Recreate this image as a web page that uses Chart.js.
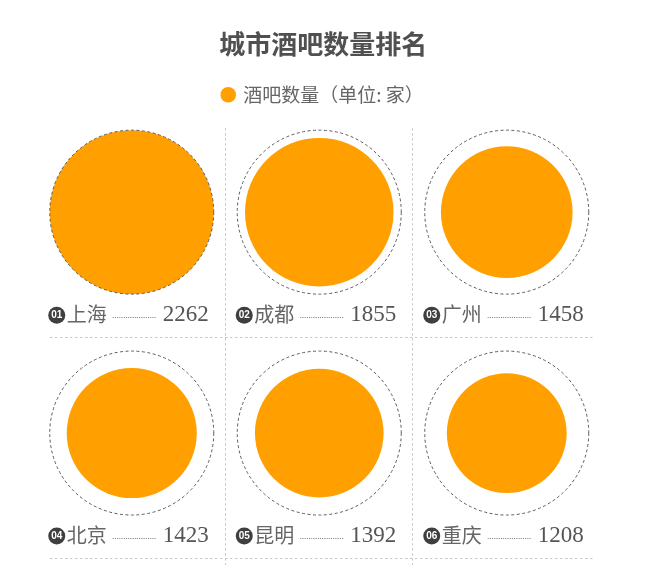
<!DOCTYPE html>
<html><head><meta charset="utf-8">
<script src="https://cdn.jsdelivr.net/npm/chart.js@4"></script>
<style>html,body{margin:0;padding:0;background:#fff}#wrap{width:648px;height:565px;position:relative}</style>
</head><body><div id="wrap"><canvas id="c"></canvas></div>
<script>
// ---- data ----
const cities = ['上海', '成都', '广州', '北京', '昆明', '重庆'];
const ranks = ['01', '02', '03', '04', '05', '06'];
const barCounts = [2262, 1855, 1458, 1423, 1392, 1208];
const seriesLabel = '酒吧数量（单位: 家）';
const chartTitle = '城市酒吧数量排名';

// ---- layout/styling ----
const COLS = 3;
const MAX_R = 82;
const ORANGE = '#FFA000';
const CJK = '"Noto Sans CJK SC", "Noto Sans", sans-serif';
const X_SHIFT = 4 / 187.5;

const maxV = Math.max(...barCounts);
const colOf = i => (i % COLS) + 0.5;
const rowOf = i => 1 - Math.floor(i / COLS);

const fillPts = barCounts.map((v, i) => ({ x: colOf(i), y: rowOf(i), r: MAX_R * Math.sqrt(v / maxV) }));
const outlinePts = barCounts.map((v, i) => ({ x: colOf(i), y: rowOf(i), r: MAX_R }));

const dashPlugin = {
  id: 'dashOutline',
  beforeDatasetDraw(chart, args) {
    if (args.index === 0) { chart.ctx.save(); chart.ctx.setLineDash([3, 2.5]); }
  },
  afterDatasetDraw(chart, args) {
    if (args.index === 0) chart.ctx.restore();
  }
};

const gridPlugin = {
  id: 'cellGrid',
  beforeDatasetsDraw(chart) {
    const { ctx, scales: { x, y } } = chart;
    ctx.save();
    ctx.strokeStyle = '#c8c8c8';
    ctx.lineWidth = 1;
    ctx.setLineDash([2.5, 2.5]);
    const top = y.getPixelForValue(1) - 84;
    const bottom = chart.height;
    for (let c = 1; c < COLS; c++) {
      const px = Math.round(x.getPixelForValue(c)) - 0.5;
      ctx.beginPath(); ctx.moveTo(px, top); ctx.lineTo(px, bottom); ctx.stroke();
    }
    [1, 0].forEach(r => {
      const py = Math.round(y.getPixelForValue(r) + 125) + 0.5;
      ctx.beginPath();
      ctx.moveTo(x.getPixelForValue(0) + 12, py);
      ctx.lineTo(x.getPixelForValue(COLS) - 7, py);
      ctx.stroke();
    });
    ctx.restore();
  }
};

const labelPlugin = {
  id: 'cellLabels',
  afterDatasetsDraw(chart) {
    const { ctx, scales: { x, y } } = chart;
    ctx.save();
    barCounts.forEach((v, i) => {
      const cx = x.getPixelForValue(colOf(i));
      const cy = y.getPixelForValue(rowOf(i)) + 102;
      // badge
      ctx.fillStyle = '#3f3f3f';
      ctx.beginPath(); ctx.arc(cx - 75, cy + 1, 8.5, 0, Math.PI * 2); ctx.fill();
      ctx.fillStyle = '#fff';
      ctx.font = 'bold 10px "Liberation Sans", Arial, sans-serif';
      ctx.textAlign = 'center'; ctx.textBaseline = 'middle';
      ctx.fillText(ranks[i], cx - 75, cy + 1.5);
      // name
      ctx.fillStyle = '#666';
      ctx.font = '20px ' + CJK;
      ctx.textAlign = 'left';
      const nameX = cx - 65;
      ctx.fillText(cities[i], nameX, cy);
      const nameEnd = nameX + ctx.measureText(cities[i]).width;
      // value
      ctx.font = '23px "Liberation Serif", "DejaVu Serif", serif';
      ctx.textAlign = 'right';
      ctx.fillStyle = '#555';
      const valRight = cx + 77;
      ctx.fillText(String(v), valRight, cy + 1);
      const valStart = valRight - ctx.measureText(String(v)).width;
      // leader
      ctx.strokeStyle = '#777';
      ctx.lineWidth = 1;
      ctx.setLineDash([1, 1.2]);
      ctx.beginPath();
      ctx.moveTo(nameEnd + 6, Math.round(cy + 3) + 0.5);
      ctx.lineTo(valStart - 7, Math.round(cy + 3) + 0.5);
      ctx.stroke();
      ctx.setLineDash([]);
    });
    ctx.restore();
  }
};

new Chart(document.getElementById('c'), {
  type: 'bubble',
  data: {
    datasets: [
      { label: 'outline', data: outlinePts, backgroundColor: 'rgba(0,0,0,0)', borderColor: '#5a5a5a', borderWidth: 1, hoverBorderWidth: 1, hoverRadius: 0, clip: false },
      { label: seriesLabel, data: fillPts, backgroundColor: ORANGE, borderColor: ORANGE, borderWidth: 0, hoverRadius: 0, clip: false }
    ]
  },
  options: {
    responsive: true,
    maintainAspectRatio: false,
    animation: false,
    events: [],
    layout: { autoPadding: false, padding: { left: 42, right: 43.5, top: 0, bottom: 0 } },
    scales: {
      x: { display: false, min: X_SHIFT, max: COLS + X_SHIFT },
      y: { display: false, min: (433 - 565) / 221, max: (433 - 114) / 221 }
    },
    plugins: {
      tooltip: { enabled: false },
      title: {
        display: true, text: chartTitle, color: '#505050',
        font: { family: CJK, size: 26, weight: 'bold', lineHeight: 1.2 },
        padding: { top: 29, bottom: 25 }
      },
      legend: {
        display: true,
        labels: {
          filter: item => item.datasetIndex === 1,
          usePointStyle: true, pointStyle: 'circle',
          boxWidth: 11, boxHeight: 11,
          color: '#666',
          font: { family: CJK, size: 19 },
          padding: 0
        }
      }
    }
  },
  plugins: [dashPlugin, gridPlugin, labelPlugin]
});
</script></body></html>
